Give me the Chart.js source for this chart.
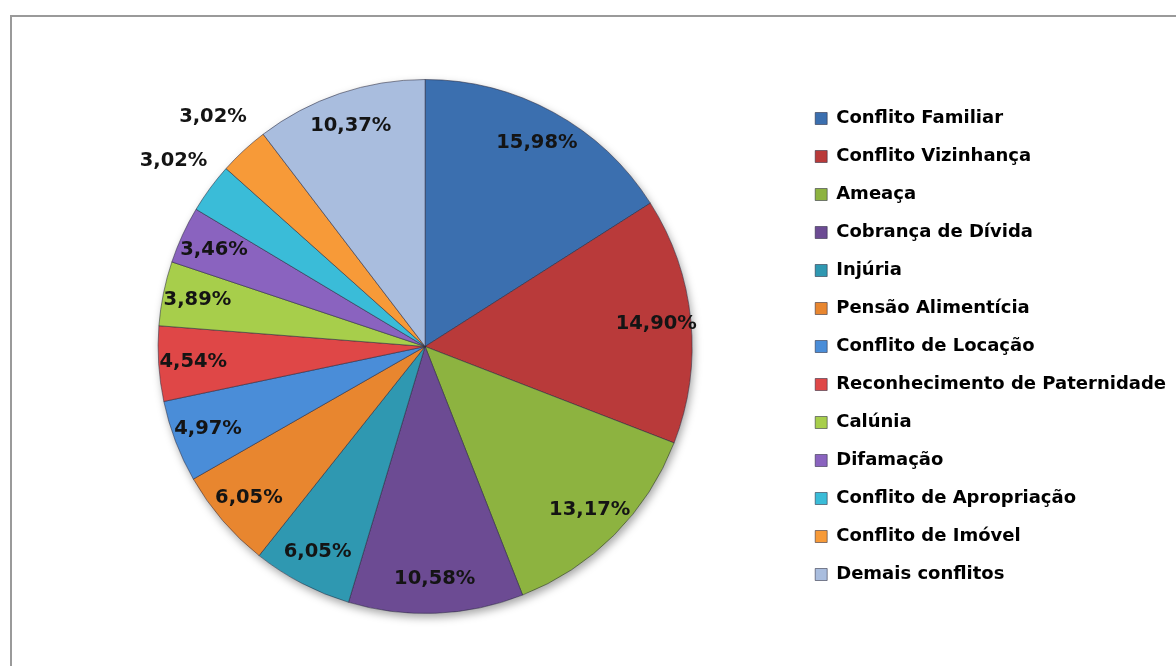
<!DOCTYPE html>
<html>
<head>
<meta charset="utf-8">
<script src="https://cdn.jsdelivr.net/npm/chart.js@4"></script>
<style>
  html, body { margin: 0; padding: 0; background: #fff; }
  #wrap { position: relative; width: 1176px; height: 666px; overflow: hidden; }
  #frame { position: absolute; left: 10px; top: 15px; width: 1200px; height: 700px;
           border-left: 2px solid #9a9a9a; border-top: 2px solid #9a9a9a; box-sizing: border-box; }
  #box { position: absolute; left: 0; top: 0; width: 1176px; height: 666px; }
</style>
</head>
<body>
<div id="wrap">
  <div id="frame"></div>
  <div id="box"><canvas id="c"></canvas></div>
</div>
<script>
const categories = [
  "Conflito Familiar", "Conflito Vizinhança", "Ameaça", "Cobrança de Dívida",
  "Injúria", "Pensão Alimentícia", "Conflito de Locação", "Reconhecimento de Paternidade",
  "Calúnia", "Difamação", "Conflito de Apropriação", "Conflito de Imóvel", "Demais conflitos"
];
const percentages = [15.98, 14.90, 13.17, 10.58, 6.05, 6.05, 4.97, 4.54, 3.89, 3.46, 3.02, 3.02, 10.37];
const sliceColors = [
  "#3B6FAF", "#B93A3A", "#8DB340", "#6C4B93", "#2F98B1", "#E8862F",
  "#4A8DD8", "#DF4747", "#A7CE4B", "#8A63BF", "#3ABCD8", "#F79A38", "#A9BDDE"
];
const outsideLabels = [10, 11];

const labelPlugin = {
  id: 'sliceLabels',
  beforeDatasetsDraw(chart) {
    const arcs = chart.getDatasetMeta(0).data;
    if (!arcs.length) return;
    const a = arcs[0];
    const ctx = chart.ctx;
    ctx.save();
    ctx.shadowColor = 'rgba(0,0,0,0.35)';
    ctx.shadowBlur = 9;
    ctx.shadowOffsetX = 2;
    ctx.shadowOffsetY = 4;
    ctx.fillStyle = '#ffffff';
    ctx.beginPath();
    ctx.arc(a.x, a.y, a.outerRadius, 0, Math.PI * 2);
    ctx.fill();
    ctx.restore();
  },
  afterDatasetsDraw(chart) {
    const ctx = chart.ctx;
    const meta = chart.getDatasetMeta(0);
    ctx.save();
    ctx.font = 'bold 19.5px "DejaVu Sans"';
    ctx.fillStyle = '#141414';
    ctx.textAlign = 'center';
    ctx.textBaseline = 'middle';
    meta.data.forEach((arc, i) => {
      const mid = (arc.startAngle + arc.endAngle) / 2;
      const f = outsideLabels.includes(i) ? 1.17 : 0.87;
      const r = arc.outerRadius * f;
      const x = arc.x + Math.cos(mid) * r;
      const y = arc.y + Math.sin(mid) * r;
      const txt = percentages[i].toFixed(2).replace('.', ',') + '%';
      ctx.fillText(txt, x, y);
    });
    ctx.restore();
  }
};

new Chart(document.getElementById('c'), {
  type: 'pie',
  data: {
    labels: categories,
    datasets: [{
      data: percentages,
      backgroundColor: sliceColors,
      borderColor: 'rgba(40,40,60,0.55)',
      borderWidth: 1
    }]
  },
  options: {
    responsive: true,
    maintainAspectRatio: false,
    animation: false,
    layout: { padding: { top: 79, bottom: 52, left: 55, right: 0 } },
    plugins: {
      tooltip: { enabled: false },
      legend: {
        position: 'right',
        align: 'center',
        labels: {
          boxWidth: 12,
          boxHeight: 12,
          padding: 20,
          color: '#000',
          font: { family: '"DejaVu Sans"', size: 18, weight: 'bold' }
        }
      }
    }
  },
  plugins: [labelPlugin]
});
</script>
</body>
</html>
